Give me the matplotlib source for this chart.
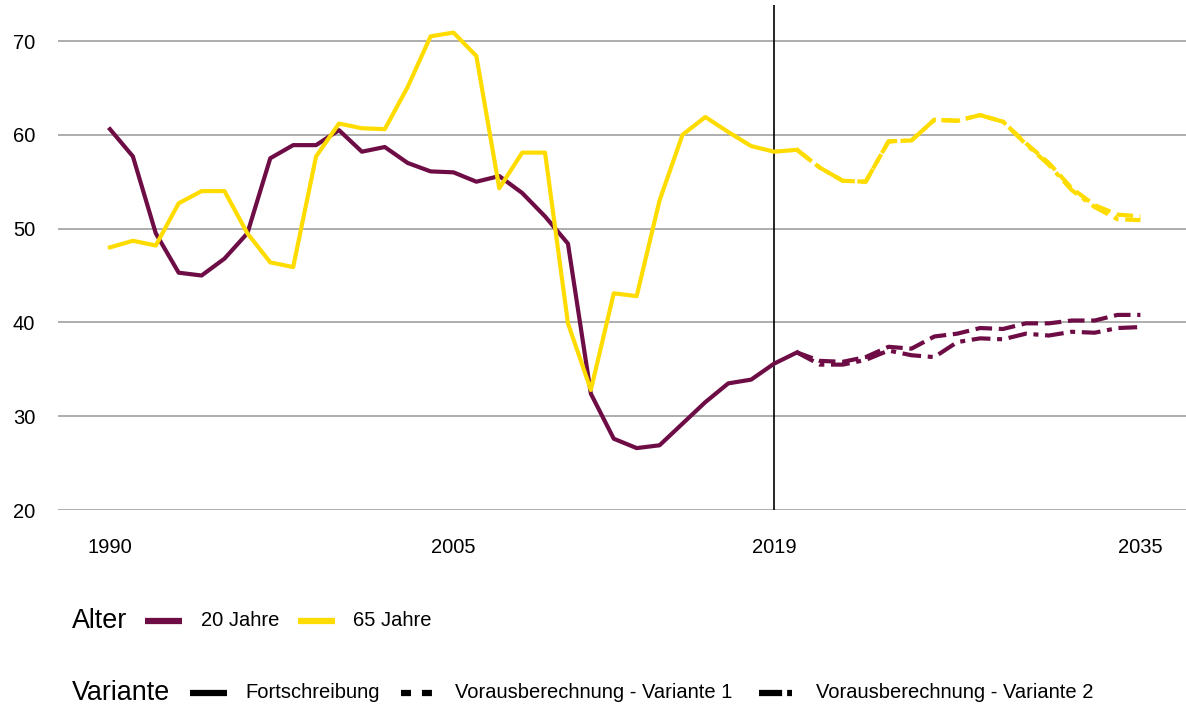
import numpy as np
import matplotlib.pyplot as plt
from matplotlib.lines import Line2D

plt.rcParams['font.family'] = ['Liberation Sans', 'DejaVu Sans']

purple = '#6E0D45'
yellow = '#FFDC00'

# Fortschreibung 1990-2020
years_hist = list(range(1990, 2021))
age20_hist = [60.6, 57.7, 49.5, 45.3, 45.0, 46.8, 49.5, 57.5, 58.9, 58.9,
              60.5, 58.2, 58.7, 57.0, 56.1, 56.0, 55.0, 55.6, 53.8, 51.3,
              48.4, 32.4, 27.6, 26.6, 26.9, 29.2, 31.5, 33.5, 33.9, 35.6,
              36.8]
age65_hist = [48.0, 48.7, 48.2, 52.7, 54.0, 54.0, 49.5, 46.4, 45.9, 57.7,
              61.2, 60.7, 60.6, 65.1, 70.5, 70.9, 68.4, 54.3, 58.1, 58.1,
              39.9, 32.8, 43.1, 42.8, 53.0, 60.0, 61.9, 60.3, 58.8, 58.2,
              58.4]

# Vorausberechnung 2020-2035
years_proj = list(range(2020, 2036))
age20_v1 = [36.8, 35.9, 35.8, 36.3, 37.4, 37.2, 38.5, 38.8, 39.4, 39.3,
            39.9, 39.9, 40.2, 40.2, 40.8, 40.8]
age20_v2 = [36.8, 35.5, 35.5, 36.0, 37.0, 36.5, 36.3, 37.9, 38.3, 38.2,
            38.8, 38.6, 39.0, 38.9, 39.4, 39.5]
age65_v1 = [58.4, 56.5, 55.1, 55.0, 59.3, 59.4, 61.6, 61.5, 62.1, 61.4,
            59.1, 57.0, 54.3, 52.5, 51.5, 51.3]
age65_v2 = [58.4, 56.5, 55.1, 55.0, 59.3, 59.4, 61.6, 61.5, 62.1, 61.4,
            59.0, 56.8, 54.1, 52.3, 51.0, 50.9]

xticks = [1990, 2005, 2019, 2035]
yticks = [20, 30, 40, 50, 60, 70]

fig = plt.figure(figsize=(11.86, 7.10), dpi=100)
ax = fig.add_axes([58/1186, 1-510/710, 1-58/1186, (510-5)/710])

for y in yticks:
  ax.axhline(y, color='#a0a0a0', lw=1.2, zorder=0)
ax.axvline(2019, color='black', lw=1.2, zorder=1)

lw = 3.0
v1 = (0, (4, 1.6))
v2 = (0, (4.5, 1.6, 1.2, 1.6))
ax.plot(years_proj, age20_v1, color=purple, lw=lw, ls=v1, zorder=3)
ax.plot(years_proj, age20_v2, color=purple, lw=lw, ls=v2, zorder=3)
ax.plot(years_proj, age65_v1, color=yellow, lw=lw, ls=v1, zorder=3)
ax.plot(years_proj, age65_v2, color=yellow, lw=lw, ls=v2, zorder=3)
ax.plot(years_hist, age20_hist, color=purple, lw=lw, zorder=4, solid_joinstyle='round')
ax.plot(years_hist, age65_hist, color=yellow, lw=lw, zorder=4, solid_joinstyle='round')

ax.set_xlim(1987.73, 2036.99)
ax.set_ylim(20, 73.84)
ax.set_xticks(xticks)
ax.set_yticks(yticks)
ax.tick_params(length=0, labelsize=14.5, colors='black')
ax.tick_params(axis='x', pad=20)
ax.tick_params(axis='y', pad=16.5)
for s in ax.spines.values():
  s.set_visible(False)

# legend rows
def legline(x0, x1, y, color, ls='-', lw=4.5):
  fig.add_artist(Line2D([x0/1186, x1/1186], [1-y/710, 1-y/710], color=color, lw=lw, ls=ls,
                        solid_capstyle='butt', dash_capstyle='butt'))

def legtext(x, y, s, size):
  fig.text(x/1186, 1-y/710, s, fontsize=size, va='center', ha='left')

legtext(72, 621, 'Alter', 19.4)
legline(145, 182, 621, purple)
legtext(201, 621, '20 Jahre', 14.5)
legline(298, 335, 621, yellow)
legtext(353, 621, '65 Jahre', 14.5)

legtext(72, 693, 'Variante', 19.4)
legline(190, 227, 693, 'black')
legtext(245, 693, 'Fortschreibung', 14.5)
legline(401, 432, 693, 'black', ls=(0, (1.6, 1.75)))
legtext(455, 693, 'Vorausberechnung - Variante 1', 14.5)
legline(759, 792, 693, 'black', ls=(0, (3.7, 0.8, 0.8, 0.8)))
legtext(816, 693, 'Vorausberechnung - Variante 2', 14.5)

plt.savefig('out.png', dpi=100)
